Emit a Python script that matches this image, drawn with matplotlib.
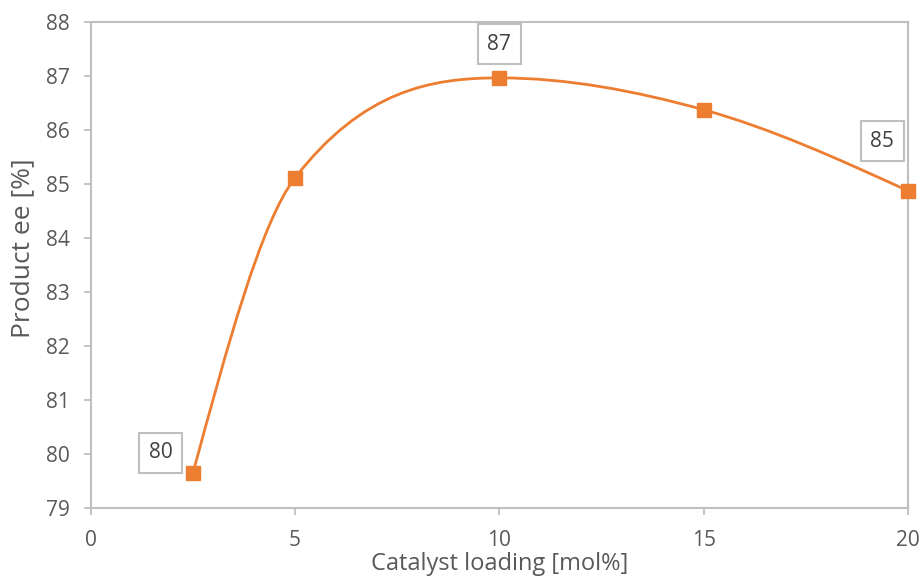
import numpy as np
import matplotlib
matplotlib.use("Agg")
import matplotlib.pyplot as plt
from matplotlib.path import Path
from matplotlib.patches import PathPatch

plt.rcParams['font.family'] = ['Open Sans', 'DejaVu Sans']

# data
loading = [2.5, 5, 10, 15, 20]
ee = [79.64, 85.11, 86.96, 86.37, 84.87]
labelled = [0, 2, 4]          # points that carry a data label
label_offsets = [(-23, 14.8), (0, 24.3), (-18.7, 35.8)]  # points

orange = '#ED7D31'
grey = '#BFBFBF'
txt = '#595959'

fig = plt.figure(figsize=(9.21, 5.76), dpi=100)
ax = fig.add_axes([90.7 / 921, (576 - 508) / 576, 817.3 / 921, 486.3 / 576])

# smoothed line: monotone catmull-rom tangents, free ends,
# each segment drawn as a cubic bezier
x = np.array(loading, dtype=float)
y = np.array(ee, dtype=float)
s = np.diff(y) / np.diff(x)
tang = np.zeros(len(x))
for i in range(1, len(x) - 1):
    if s[i - 1] * s[i] > 0:
        tang[i] = (y[i + 1] - y[i - 1]) / (x[i + 1] - x[i - 1])
tang[0] = (3 * s[0] - tang[1]) / 2
tang[-1] = (3 * s[-1] - tang[-2]) / 2

verts = [(x[0], y[0])]
codes = [Path.MOVETO]
for i in range(len(x) - 1):
    h = x[i + 1] - x[i]
    verts += [(x[i] + h / 3, y[i] + tang[i] * h / 3),
              (x[i + 1] - h / 3, y[i + 1] - tang[i + 1] * h / 3),
              (x[i + 1], y[i + 1])]
    codes += [Path.CURVE4] * 3
ax.add_patch(PathPatch(Path(verts, codes), fill=False, edgecolor=orange,
                       lw=2, capstyle='round', zorder=2))

ax.plot(loading, ee, ls='none', marker='s', ms=10, color=orange, zorder=3,
        clip_on=False)

for idx, off in zip(labelled, label_offsets):
    ax.annotate(f"{ee[idx]:.0f}", (loading[idx], ee[idx]), xytext=off,
                textcoords='offset points', ha='center', va='center',
                fontsize=15, color='#404040',
                bbox=dict(boxstyle='square,pad=0.46', fc='white', ec=grey, lw=1.5))

ax.set_xlim(0, 20)
ax.set_ylim(79, 88)
ax.set_xticks([0, 5, 10, 15, 20])
ax.set_yticks(range(79, 89))

for sp in ax.spines.values():
    sp.set_color(grey)
    sp.set_linewidth(1.5)
ax.tick_params(axis='both', colors=grey, length=5, width=1.3, direction='out',
               labelcolor=txt, labelsize=15)
ax.tick_params(axis='y', pad=10)
ax.tick_params(axis='x', pad=11)

ax.set_xlabel('Catalyst loading [mol%]', fontsize=17, color=txt)
ax.set_ylabel('Product ee [%]', fontsize=19, color=txt)
ax.xaxis.set_label_coords(0.5, -0.09)
ax.yaxis.set_label_coords(-0.068, 0.534)

fig.savefig('out.png', dpi=100)
